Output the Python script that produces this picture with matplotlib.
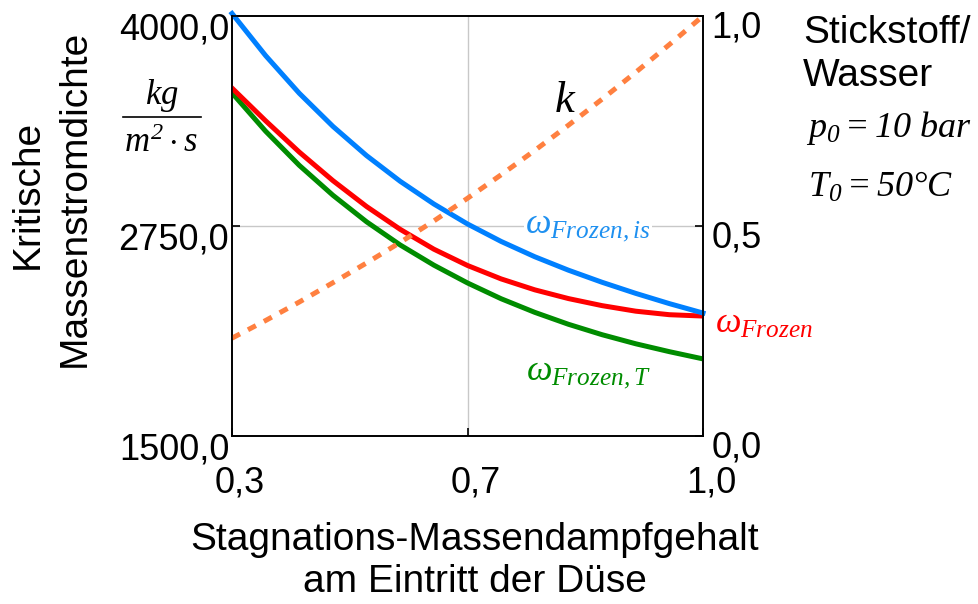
import matplotlib
matplotlib.use("Agg")
import matplotlib.pyplot as plt
from matplotlib.transforms import ScaledTranslation
from matplotlib.lines import Line2D

plt.rcParams["font.family"] = ["Liberation Sans", "DejaVu Sans"]
plt.rcParams["mathtext.fontset"] = "custom"
plt.rcParams["mathtext.rm"] = "Liberation Serif:italic"
plt.rcParams["mathtext.it"] = "Liberation Serif:italic"

# Stagnations-Massendampfgehalt
x = [0.30, 0.35, 0.40, 0.45, 0.50, 0.55, 0.60, 0.65, 0.70, 0.75, 0.80, 0.85, 0.90, 0.95, 1.00]
# kritische Massenstromdichte in kg/(m^2 s)
w_frozen_is = [4015, 3764, 3540, 3343, 3169, 3016, 2881, 2762, 2658, 2567, 2487, 2415, 2349, 2288, 2232]
w_frozen = [3571, 3376, 3190, 3020, 2866, 2730, 2612, 2515, 2435, 2370, 2318, 2276, 2243, 2222, 2214]
w_frozen_T = [3542, 3314, 3111, 2933, 2775, 2637, 2517, 2411, 2317, 2236, 2165, 2103, 2049, 2002, 1959]
# k (rechte Achse)
k = [0.233, 0.275, 0.319, 0.365, 0.412, 0.461, 0.512, 0.566, 0.622, 0.680, 0.740, 0.802, 0.866, 0.932, 1.000]

xticks = [0.3, 0.65, 1.0]
xticklabels = ["0,3", "0,7", "1,0"]
yticks = [1500, 2750, 4000]
yticklabels = ["1500,0", "2750,0", "4000,0"]
kticks = [0.0, 0.5, 1.0]
kticklabels = ["0,0", "0,5", "1,0"]

fig = plt.figure(figsize=(9.79, 6.04), dpi=100)
ax = fig.add_axes([232 / 979, 1 - 436 / 604, 471 / 979, 420 / 604])
ax2 = ax.twinx()

ax.plot(x, w_frozen_T, color="#008C00", lw=3.6, zorder=3)
ax.plot(x, w_frozen, color="#FF0000", lw=3.6, zorder=4)
ax.plot(x, w_frozen_is, color="#0080FF", lw=3.6, zorder=5, clip_on=False)
ax2.plot(x, k, color="#FF8040", lw=3.6, linestyle=(0, (1.8, 1.8)))

ax.set_xlim(0.3, 1.0)
ax.set_ylim(1500, 4000)
ax2.set_ylim(0, 1)

ax.axvline(0.65, color="#C8C8C8", lw=1, zorder=1)
ax.axhline(2750, color="#C8C8C8", lw=1, zorder=1)

ax.set_xticks(xticks)
ax.set_xticklabels(xticklabels)
ax.set_yticks(yticks)
ax.set_yticklabels(yticklabels)
ax2.set_yticks(kticks)
ax2.set_yticklabels(kticklabels)

ax.tick_params(axis="both", direction="in", length=6, width=1.2, labelsize=26, colors="black")
ax.tick_params(axis="x", pad=21)
ax.tick_params(axis="y", pad=2)
ax2.tick_params(axis="y", direction="in", length=6, width=1.2, labelsize=26, pad=6)

for a in (ax, ax2):
    for s in a.spines.values():
        s.set_linewidth(1.2)
        s.set_color("black")

for lab in ax.get_xticklabels():
    lab.set_transform(lab.get_transform() + ScaledTranslation(0.08, 0, fig.dpi_scale_trans))
for lab in ax.get_yticklabels():
    lab.set_transform(lab.get_transform() + ScaledTranslation(0, -0.10, fig.dpi_scale_trans))
for lab in ax2.get_yticklabels():
    lab.set_transform(lab.get_transform() + ScaledTranslation(0, -0.08, fig.dpi_scale_trans))

# Achsentitel
fig.text(475 / 979, 1 - 540 / 604, "Stagnations-Massendampfgehalt", ha="center", va="center", fontsize=28)
fig.text(475 / 979, 1 - 582 / 604, "am Eintritt der Düse", ha="center", va="center", fontsize=28)
fig.text(28 / 979, 1 - 194 / 604, "Kritische", ha="center", va="center", fontsize=28, rotation=90)
fig.text(75 / 979, 1 - 198 / 604, "Massenstromdichte", ha="center", va="center", fontsize=28, rotation=90)

# Einheit
fig.text(162 / 979, 1 - 95 / 604, r"$kg$", ha="center", va="center", fontsize=25)
fig.add_artist(Line2D([123 / 979, 201 / 979], [1 - 117 / 604, 1 - 117 / 604], color="black", lw=1.2))
fig.text(161 / 979, 1 - 142 / 604, r"$m^2\cdot s$", ha="center", va="center", fontsize=25)

# Kurvenbeschriftungen
ax.text(0.829, 2755, r"$\omega_{Frozen,is}$", color="#1E90F0", fontsize=26, ha="center", va="center",
        bbox=dict(facecolor="white", edgecolor="none", pad=1), zorder=6)
ax.text(1.018, 2172, r"$\omega_{Frozen}$", color="#FF0000", fontsize=26, ha="left", va="center", clip_on=False)
ax.text(0.83, 1880, r"$\omega_{Frozen,T}$", color="#008C00", fontsize=26, ha="center", va="center")
ax2.text(0.795, 0.80, r"$k$", color="black", fontsize=32, ha="center", va="center")

# Randbedingungen
fig.text(803 / 979, 1 - 33 / 604, "Stickstoff/", ha="left", va="center", fontsize=28)
fig.text(803 / 979, 1 - 76 / 604, "Wasser", ha="left", va="center", fontsize=28)
fig.text(806 / 979, 1 - 128 / 604, r"$p_0 = 10\ bar$", ha="left", va="center", fontsize=26)
fig.text(808 / 979, 1 - 187 / 604, r"$T_0 = 50°C$", ha="left", va="center", fontsize=26)

fig.savefig("out.png", dpi=100)
